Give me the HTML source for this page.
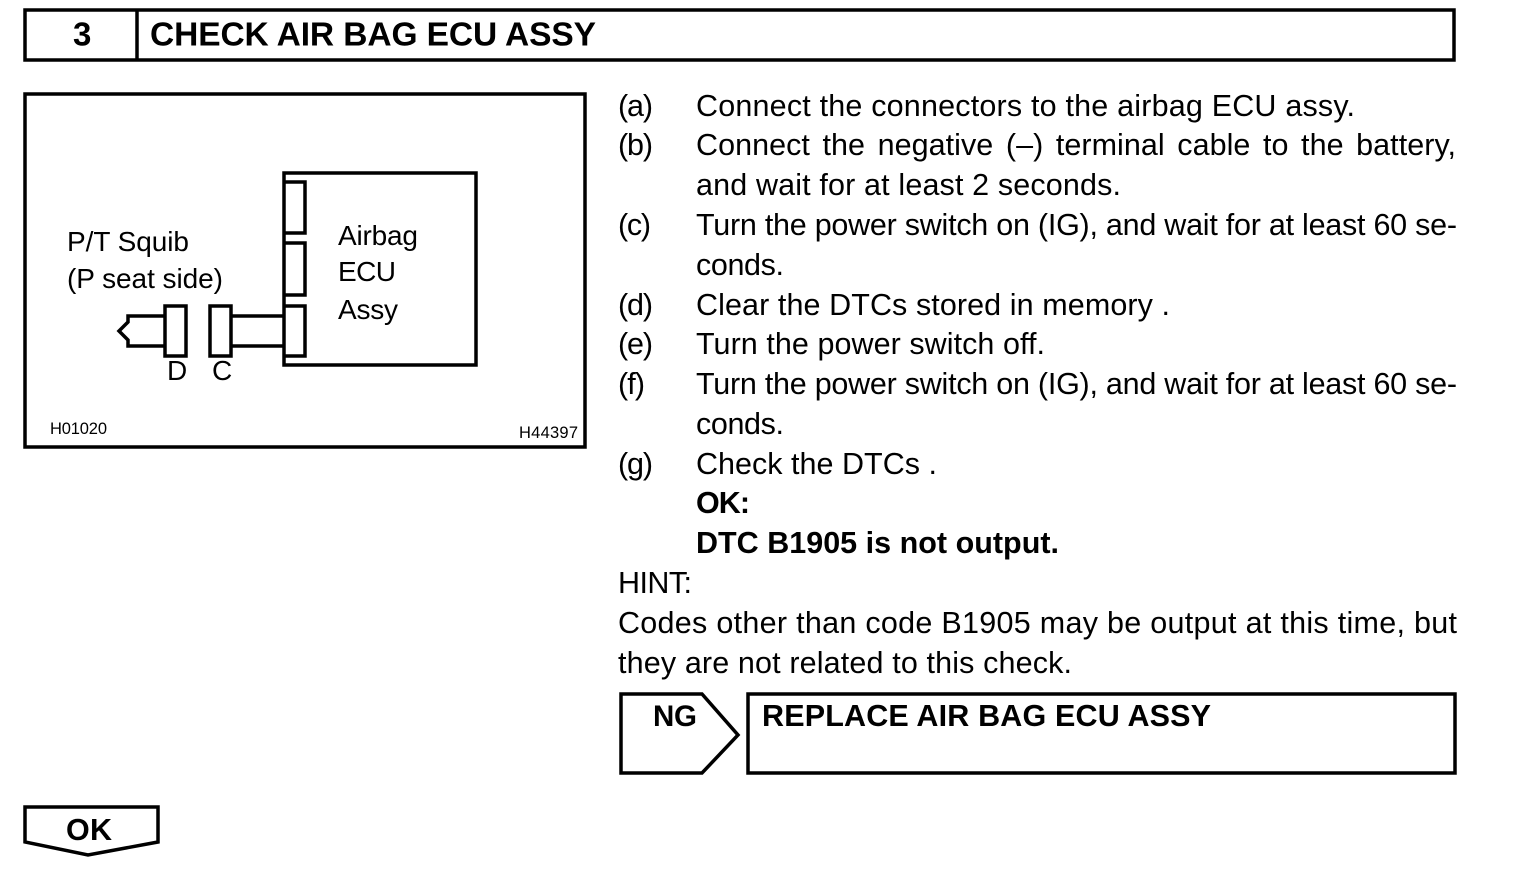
<!DOCTYPE html>
<html>
<head>
<meta charset="utf-8">
<style>
html,body{margin:0;padding:0;background:#fff;}
#p{position:relative;width:1520px;height:872px;overflow:hidden;background:#fff;}
svg{position:absolute;left:0;top:0;}
text{font-family:"Liberation Sans",sans-serif;fill:#000;stroke:none;}
.m{font-size:30.5px;}
.d{font-size:28px;}
.s{font-size:16.5px;}
.b{font-weight:bold;}
</style>
</head>
<body>
<div id="p">
<svg width="1520" height="872" fill="none" stroke="#000" stroke-width="3.5">
  <rect x="25" y="10" width="1429" height="50"/>
  <line x1="137" y1="10" x2="137" y2="60"/>
  <rect x="25" y="94" width="560" height="353"/>
  <rect x="284" y="173" width="192" height="192"/>
  <path d="M284 182H305V233H284M284 243H305V295H284M284 306H305V356H284"/>
  <rect x="165" y="306" width="21" height="50"/>
  <rect x="210" y="306" width="21" height="50"/>
  <path d="M231 316H284M231 346H284"/>
  <path d="M165 316H128V322L119 331L128 340V346H165"/>
  <path d="M621 694H702L738 735L702 773H621Z"/>
  <rect x="748" y="694" width="707" height="79"/>
  <path d="M25 807H158V842L88 855L25 842Z"/>

  <text class="b" x="73" y="45.5" font-size="33">3</text>
  <text class="b" x="150" y="45.5" font-size="33.5" textLength="446">CHECK AIR BAG ECU ASSY</text>

  <text class="d" x="67" y="251" textLength="122">P/T Squib</text>
  <text class="d" x="67" y="288" textLength="156">(P seat side)</text>
  <text class="d" x="338" y="245" textLength="80">Airbag</text>
  <text class="d" x="338" y="281" textLength="58">ECU</text>
  <text class="d" x="338" y="319" textLength="60">Assy</text>
  <text class="d" x="167" y="380" textLength="20">D</text>
  <text class="d" x="212" y="380" textLength="20">C</text>
  <text class="s" x="50" y="434" textLength="57">H01020</text>
  <text class="s" x="519" y="438" textLength="59">H44397</text>

  <text class="m" x="618" y="116" textLength="35">(a)</text>
  <text class="m" x="696" y="116" textLength="659">Connect the connectors to the airbag ECU assy.</text>
  <text class="m" x="618" y="155" textLength="35">(b)</text>
  <text class="m" x="696" y="155" textLength="760" word-spacing="4">Connect the negative (–) terminal cable to the battery,</text>
  <text class="m" x="696" y="195" textLength="425">and wait for at least 2 seconds.</text>
  <text class="m" x="618" y="235" textLength="33">(c)</text>
  <text class="m" x="696" y="235" textLength="761">Turn the power switch on (IG), and wait for at least 60 se-</text>
  <text class="m" x="696" y="275" textLength="88">conds.</text>
  <text class="m" x="618" y="315" textLength="35">(d)</text>
  <text class="m" x="696" y="315" textLength="474">Clear the DTCs stored in memory .</text>
  <text class="m" x="618" y="354" textLength="35">(e)</text>
  <text class="m" x="696" y="354" textLength="349">Turn the power switch off.</text>
  <text class="m" x="618" y="394" textLength="27">(f)</text>
  <text class="m" x="696" y="394" textLength="761">Turn the power switch on (IG), and wait for at least 60 se-</text>
  <text class="m" x="696" y="434" textLength="88">conds.</text>
  <text class="m" x="618" y="474" textLength="35">(g)</text>
  <text class="m" x="696" y="474" textLength="241">Check the DTCs .</text>
  <text class="m b" x="696" y="513" textLength="54">OK:</text>
  <text class="m b" x="696" y="553" textLength="363">DTC B1905 is not output.</text>
  <text class="m" x="618" y="593" textLength="74">HINT:</text>
  <text class="m" x="618" y="633" textLength="839">Codes other than code B1905 may be output at this time, but</text>
  <text class="m" x="618" y="673" textLength="454">they are not related to this check.</text>

  <text class="b" x="653" y="726" font-size="29.5" textLength="44">NG</text>
  <text class="m b" x="762" y="726" textLength="449">REPLACE AIR BAG ECU ASSY</text>
  <text class="b" x="66" y="840" font-size="30.5" textLength="46">OK</text>
</svg>
</div>
</body>
</html>
